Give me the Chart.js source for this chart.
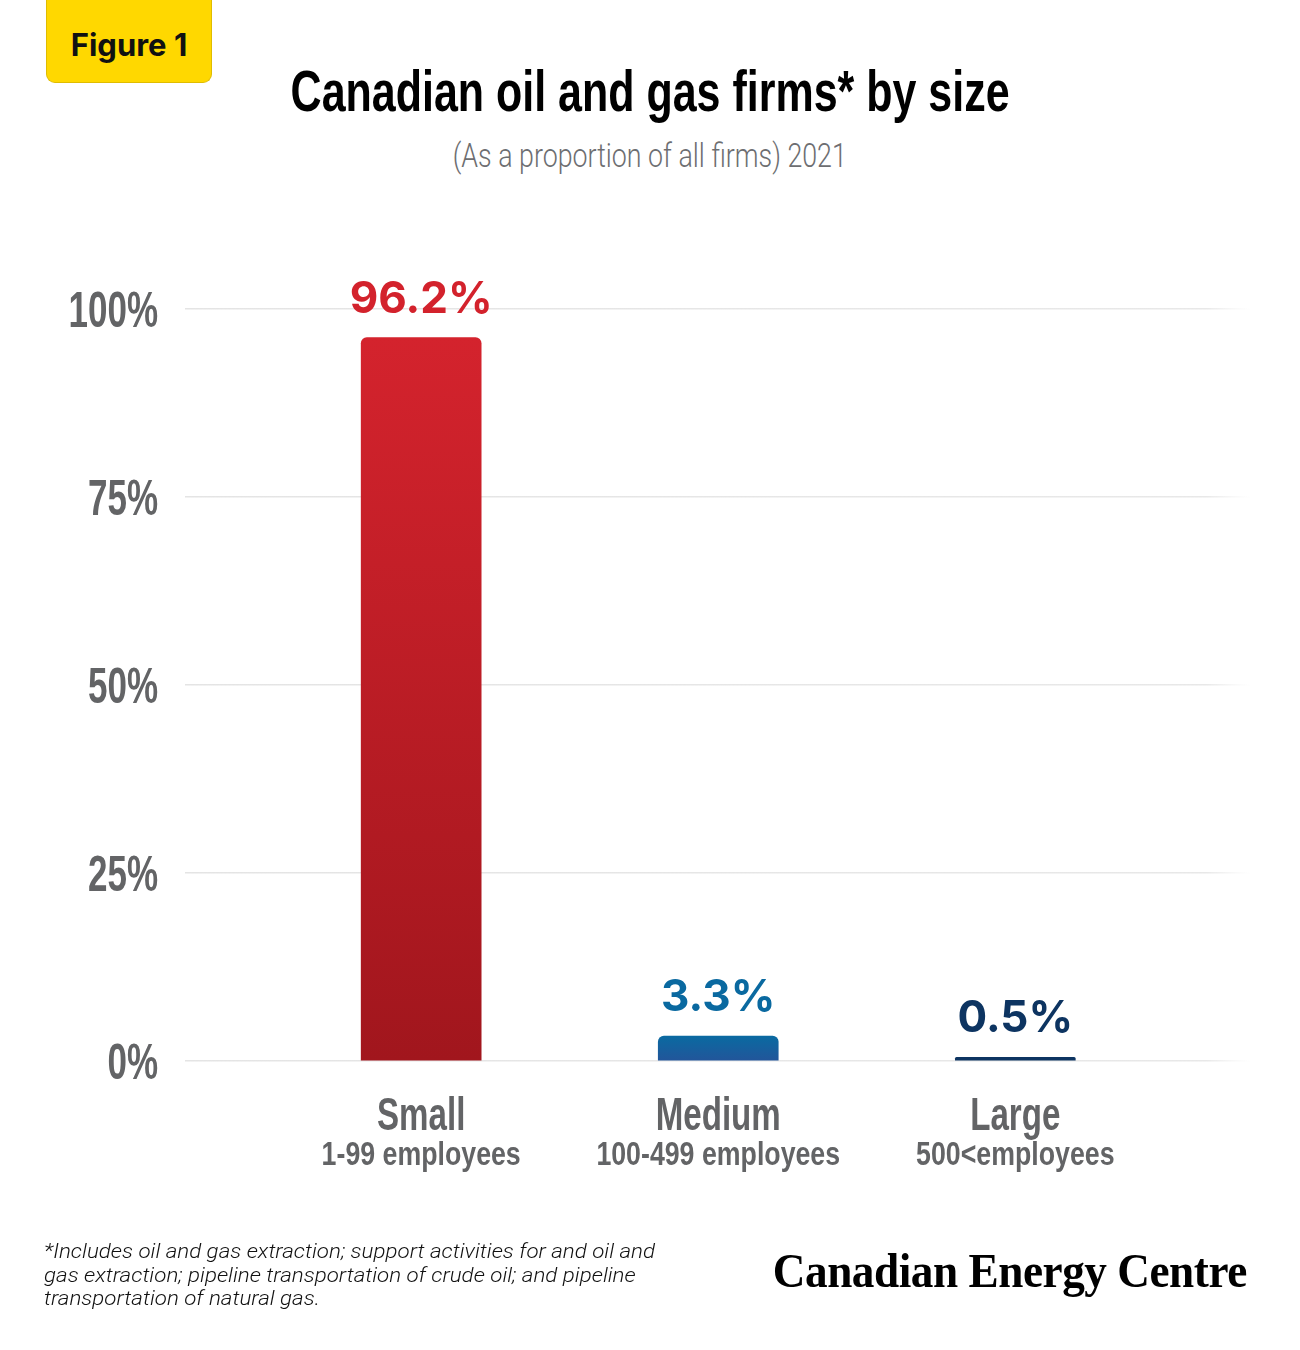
<!DOCTYPE html>
<html>
<head>
<meta charset="utf-8">
<script src="https://cdn.jsdelivr.net/npm/chart.js@4.4.1/dist/chart.umd.min.js"></script>
<style>
  html, body { margin: 0; padding: 0; background: #fff; }
  body { width: 1300px; height: 1350px; position: relative; overflow: hidden; }
  #chartBox { position: absolute; left: 0; top: 0; width: 1300px; height: 1350px; }
  .txt { position: absolute; white-space: nowrap; }
  #badge { position: absolute; left: 46px; top: -10px; width: 166px; height: 93px;
    background: #ffd800; border: 1.5px solid #e0bc00; border-top: none; border-radius: 9px;
    box-sizing: border-box; }
  #badge span { position: absolute; left: 0; right: 0; top: 39px; text-align: center;
    font: 700 31px Inter, sans-serif; color: #111; line-height: 31px; }
  #title { left: 0; width: 1300px; top: 62px; text-align: center;
    font: 700 58px "Liberation Sans", sans-serif; line-height: 58px; color: #000; }
  #subtitle { left: 0; width: 1300px; top: 139px; text-align: center;
    font: 300 33px Roboto, sans-serif; line-height: 33px; color: #6d6e71; }
  #note { left: 44px; top: 1240px; font: italic 300 21px Roboto, sans-serif; line-height: 23.5px;
    color: #111; transform-origin: left top; }
  #brand { right: 53px; top: 1247px; font: 700 48px "Liberation Serif", serif; line-height: 48px;
    color: #000; transform-origin: right top; letter-spacing: -0.5px; }
  .fit { display: inline-block; }
</style>
</head>
<body>
<div id="badge"><span>Figure 1</span></div>
<div id="title" class="txt"><span class="fit" data-w="719">Canadian oil and gas firms* by size</span></div>
<div id="subtitle" class="txt"><span class="fit" data-w="394">(As a proportion of all firms) 2021</span></div>
<div id="chartBox"><canvas id="barChart" width="1300" height="1350"></canvas></div>
<div id="note" class="txt">*Includes oil and gas extraction; support activities for and oil and<br>gas extraction; pipeline transportation of crude oil; and pipeline<br>transportation of natural gas.</div>
<div id="brand" class="txt">Canadian Energy Centre</div>

<script>
// data
var categories = ["Small", "Medium", "Large"];
var subLabels = ["1-99 employees", "100-499 employees", "500<employees"];
var shares = [96.2, 3.3, 0.5];
var yTicks = [0, 25, 50, 75, 100];

var barTop = ["#d4232d", "#0a6aa1", "#0d3461"];
var barBottom = ["#a1161d", "#22559a", "#0d3461"];
var valueColors = ["#d3222c", "#0a69a0", "#0d3461"];

// squeeze wide text to the width the design uses
function fitWidth(el, target) {
  var w = el.getBoundingClientRect().width;
  if (w > 0) {
    el.style.transform = "scaleX(" + (target / w) + ")";
  }
}
document.querySelectorAll(".fit").forEach(function (el) {
  fitWidth(el, parseFloat(el.getAttribute("data-w")));
});
fitWidth(document.getElementById("note"), 611);
fitWidth(document.getElementById("brand"), 474);

function barFill(context) {
  var chart = context.chart;
  var area = chart.chartArea;
  var i = context.dataIndex;
  if (!area) return barTop[i];
  var top = chart.scales.y.getPixelForValue(shares[i]);
  var g = chart.ctx.createLinearGradient(0, top, 0, area.bottom);
  g.addColorStop(0, barTop[i]);
  g.addColorStop(1, barBottom[i]);
  return g;
}

function gridFade(context) {
  var chart = context.chart;
  var area = chart.chartArea;
  if (!area) return "#e6e6e6";
  var g = chart.ctx.createLinearGradient(area.left, 0, area.right, 0);
  g.addColorStop(0, "#e4e4e4");
  g.addColorStop(0.96, "#e8e8e8");
  g.addColorStop(1, "rgba(240,240,240,0)");
  return g;
}

// narrow text: draw with a horizontal squeeze
function squeezeText(ctx, text, x, y, sx) {
  ctx.save();
  ctx.translate(x, y);
  ctx.scale(sx, 1);
  ctx.fillText(text, 0, 0);
  ctx.restore();
}

var labelPlugin = {
  id: "labelPlugin",
  afterDatasetsDraw: function (chart) {
    var ctx = chart.ctx;
    var meta = chart.getDatasetMeta(0);
    var xScale = chart.scales.x;
    var yScale = chart.scales.y;
    var area = chart.chartArea;
    ctx.save();
    ctx.textBaseline = "alphabetic";

    // y tick labels
    ctx.textAlign = "right";
    ctx.fillStyle = "#636466";
    ctx.font = "700 50px 'Liberation Sans', sans-serif";
    yScale.ticks.forEach(function (t) {
      squeezeText(ctx, t.value + "%", area.left - 27, yScale.getPixelForValue(t.value) + 18, 0.70);
    });

    ctx.textAlign = "center";
    meta.data.forEach(function (bar, i) {
      ctx.fillStyle = valueColors[i];
      ctx.font = "700 44px Inter, sans-serif";
      ctx.fillText(shares[i].toFixed(1) + "%", bar.x, bar.y - 25);

      var cx = xScale.getPixelForValue(i);
      ctx.fillStyle = "#636466";
      ctx.font = "700 46px 'Liberation Sans', sans-serif";
      squeezeText(ctx, categories[i], cx, area.bottom + 69, 0.72);
      ctx.font = "700 33px 'Liberation Sans', sans-serif";
      squeezeText(ctx, subLabels[i], cx, area.bottom + 104, 0.81);
    });
    ctx.restore();
  }
};

var barChartCanvas = document.getElementById("barChart").getContext("2d");
var barChart = new Chart(barChartCanvas, {
  type: "bar",
  data: {
    datasets: [{
      data: shares.map(function (v, i) { return { x: i, y: v }; }),
      backgroundColor: barFill,
      borderRadius: { topLeft: 6, topRight: 6, bottomLeft: 0, bottomRight: 0 },
      borderSkipped: "bottom",
      barThickness: 120
    }]
  },
  options: {
    responsive: false,
    animation: false,
    devicePixelRatio: 1,
    layout: { padding: { top: 309, bottom: 289, left: 0, right: 50 } },
    plugins: { legend: { display: false }, tooltip: { enabled: false } },
    scales: {
      x: {
        type: "linear",
        offset: false,
        min: -0.795,
        max: 2.79,
        display: false
      },
      y: {
        min: 0,
        max: 100,
        afterBuildTicks: function (scale) {
          scale.ticks = yTicks.map(function (v) { return { value: v }; });
        },
        afterFit: function (scale) { scale.width = 185; },
        border: { display: false },
        grid: { color: gridFade, lineWidth: 1.5, drawTicks: false },
        ticks: { display: false }
      }
    }
  },
  plugins: [labelPlugin]
});
</script>
</body>
</html>
